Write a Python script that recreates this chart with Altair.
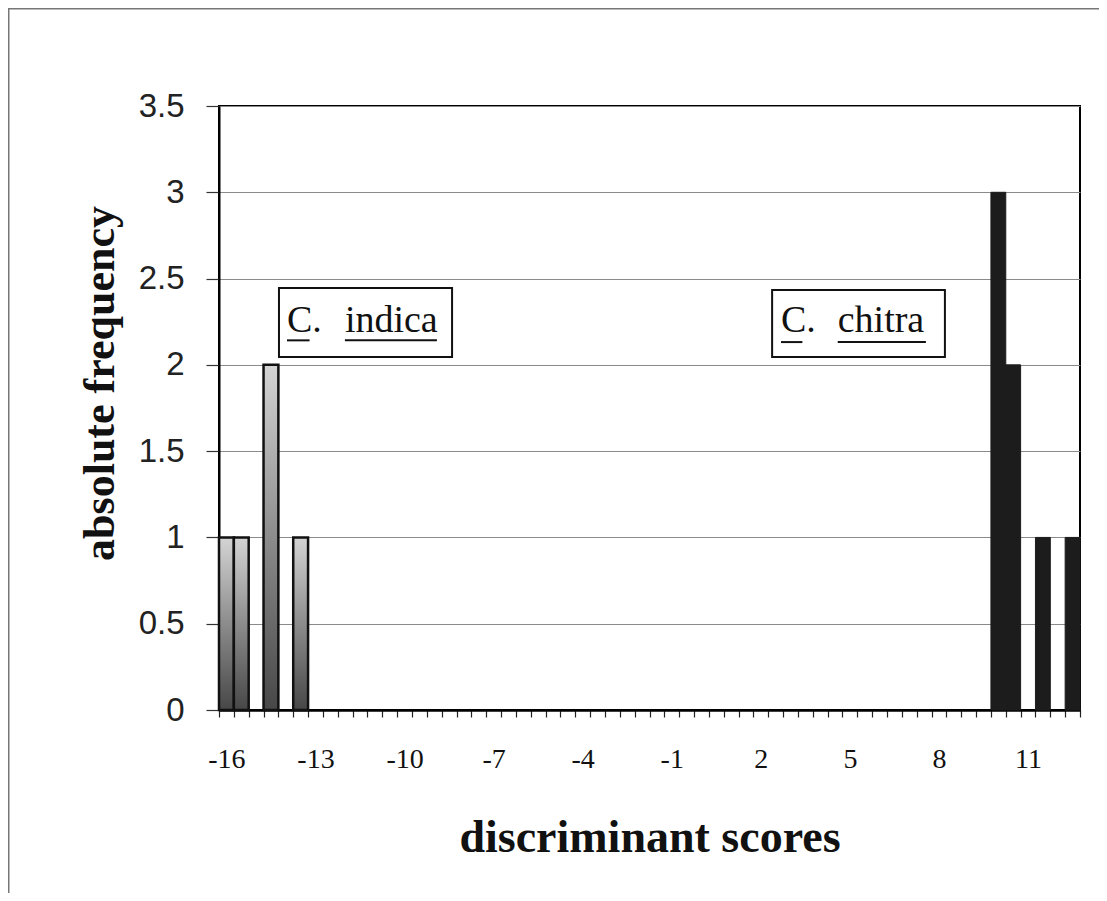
import altair as alt
import pandas as pd
import numpy as np

# ---- data ----
indica_scores = [-16, -15.5, -14.5, -13.5]
indica_counts = [1, 1, 2, 1]
chitra_scores = [10, 10.5, 11.5, 12.5]
chitra_counts = [3, 2, 1, 1]
bin_half = 0.25

x_domain = [-16.25, 12.75]
x_label_values = [-16, -13, -10, -7, -4, -1, 2, 5, 8, 11]
y_ticks = [0, 0.5, 1, 1.5, 2, 2.5, 3, 3.5]

# annotation boxes (data units)
genus = ["C.", "C."]
species = ["indica", "chitra"]
box_x0 = [-14.23, 2.38]
box_x1 = [-8.40, 8.20]
box_y0 = [2.046, 2.046]
box_y1 = [2.445, 2.434]
genus_x = [-13.96, 2.68]
species_x = [-12.01, 4.59]
text_y = [2.19, 2.19]
ul_y = [2.142, 2.132]
genus_ul_x0 = [-13.96, 2.68]
genus_ul_x1 = [-13.20, 3.40]
species_ul_x0 = [-12.01, 4.59]
species_ul_x1 = [-8.91, 7.56]

W, H = 861, 604
PAD = {"left": 211, "top": 98, "right": 19, "bottom": 183}

indica = pd.DataFrame({"score": indica_scores, "count": indica_counts})
chitra = pd.DataFrame({"score": chitra_scores, "count": chitra_counts})
for df in (indica, chitra):
    df["lo"] = df["score"] - bin_half
    df["hi"] = df["score"] + bin_half

boundaries = [float(v) for v in np.arange(x_domain[0], x_domain[1] + 0.01, 0.5)]
lab_arr = "[" + ",".join(str(v) for v in x_label_values) + "]"

xscale = alt.Scale(domain=x_domain, nice=False, zero=False)
yscale = alt.Scale(domain=[0, 3.5], nice=False, zero=True)

x_axis = alt.Axis(
    values=boundaries,
    labelExpr=f"indexof({lab_arr}, datum.value + 0.25) >= 0 ? '' + (datum.value + 0.25) : ''",
    labelOffset=7.4,
    labelOverlap=False,
    labelFlush=False,
    labelFont="Liberation Serif",
    labelFontSize=28,
    labelColor="#111",
    labelPadding=28,
    tickSize=7,
    tickColor="#222",
    tickWidth=1.2,
    domainColor="#000",
    domainWidth=2.5,
    grid=False,
    title="discriminant scores",
    titleFont="Liberation Serif",
    titleFontSize=46,
    titleFontWeight="bold",
    titleColor="#111",
    titleX=W / 2,
    titleY=141,
    titleAlign="center",
    titleBaseline="alphabetic",
)

y_axis = alt.Axis(
    values=y_ticks,
    labelExpr="'' + datum.value",
    labelFont="Liberation Sans",
    labelFontSize=33,
    labelColor="#222",
    labelPadding=22,
    tickSize=13,
    tickColor="#333",
    tickWidth=1.2,
    domainColor="#000",
    domainWidth=2,
    grid=True,
    gridColor="#8a8a8a",
    gridWidth=1,
    title="absolute frequency",
    titleFont="Liberation Serif",
    titleFontSize=44,
    titleFontWeight="bold",
    titleColor="#111",
    titleAngle=270,
    titleX=-119,
    titleY=277,
    titleAlign="center",
    titleBaseline="middle",
)

grad = alt.Gradient(
    gradient="linear",
    stops=[
        alt.GradientStop(color="#d4d4d4", offset=0),
        alt.GradientStop(color="#8c8c8c", offset=0.5),
        alt.GradientStop(color="#474747", offset=1),
    ],
    x1=0, x2=0, y1=0, y2=1,
)


def X(field):
    return alt.X(field, scale=xscale, axis=x_axis)


def Y(field):
    return alt.Y(field, scale=yscale, axis=y_axis)


bars_indica = alt.Chart(indica).mark_rect(fill=grad, stroke="#111", strokeWidth=2.5).encode(
    x=X("lo:Q"), x2="hi:Q", y=Y("count:Q"), y2=alt.datum(0),
)

bars_chitra = alt.Chart(chitra).mark_rect(fill="#1c1c1c", stroke="#1c1c1c", strokeWidth=1).encode(
    x=X("lo:Q"), x2="hi:Q", y=Y("count:Q"), y2=alt.datum(0),
)

ann = pd.DataFrame({
    "genus": genus, "species": species,
    "bx0": box_x0, "bx1": box_x1, "by0": box_y0, "by1": box_y1,
    "gx": genus_x, "sx": species_x, "ty": text_y, "uy": ul_y,
    "gu0": genus_ul_x0, "gu1": genus_ul_x1, "su0": species_ul_x0, "su1": species_ul_x1,
})

boxes = alt.Chart(ann).mark_rect(fill="white", stroke="#111", strokeWidth=2).encode(
    x=X("bx0:Q"), x2="bx1:Q", y=Y("by0:Q"), y2="by1:Q",
)
txt_style = dict(font="Liberation Serif", fontSize=38, color="#111", align="left", baseline="alphabetic")
genus_txt = alt.Chart(ann).mark_text(**txt_style).encode(
    x=X("gx:Q"), y=Y("ty:Q"), text="genus:N",
)
species_txt = alt.Chart(ann).mark_text(**txt_style).encode(
    x=X("sx:Q"), y=Y("ty:Q"), text="species:N",
)
genus_ul = alt.Chart(ann).mark_rule(color="#111", strokeWidth=2).encode(
    x=X("gu0:Q"), x2="gu1:Q", y=Y("uy:Q"),
)
species_ul = alt.Chart(ann).mark_rule(color="#111", strokeWidth=2).encode(
    x=X("su0:Q"), x2="su1:Q", y=Y("uy:Q"),
)

# outer frame lines (top and left edges of the figure)
one = pd.DataFrame({"k": [0]})
frame_top = alt.Chart(one).mark_rule(color="#777", strokeWidth=1.5).encode(
    x=alt.value(-PAD["left"]), x2=alt.value(W + PAD["right"]), y=alt.value(-PAD["top"] + 0.75)
)
frame_left = alt.Chart(one).mark_rule(color="#777", strokeWidth=1.5).encode(
    x=alt.value(-PAD["left"] + 0.75), y=alt.value(-PAD["top"]), y2=alt.value(H + PAD["bottom"])
)

chart = alt.layer(
    bars_indica, bars_chitra, boxes, genus_ul, species_ul, genus_txt, species_txt, frame_top, frame_left
).properties(
    width=W, height=H,
    autosize=alt.AutoSizeParams(type="none"),
    padding=PAD,
    background="white",
).configure_view(stroke="#000", strokeWidth=2)

chart.save("out.html", embed_options={"renderer": "svg", "actions": False})
